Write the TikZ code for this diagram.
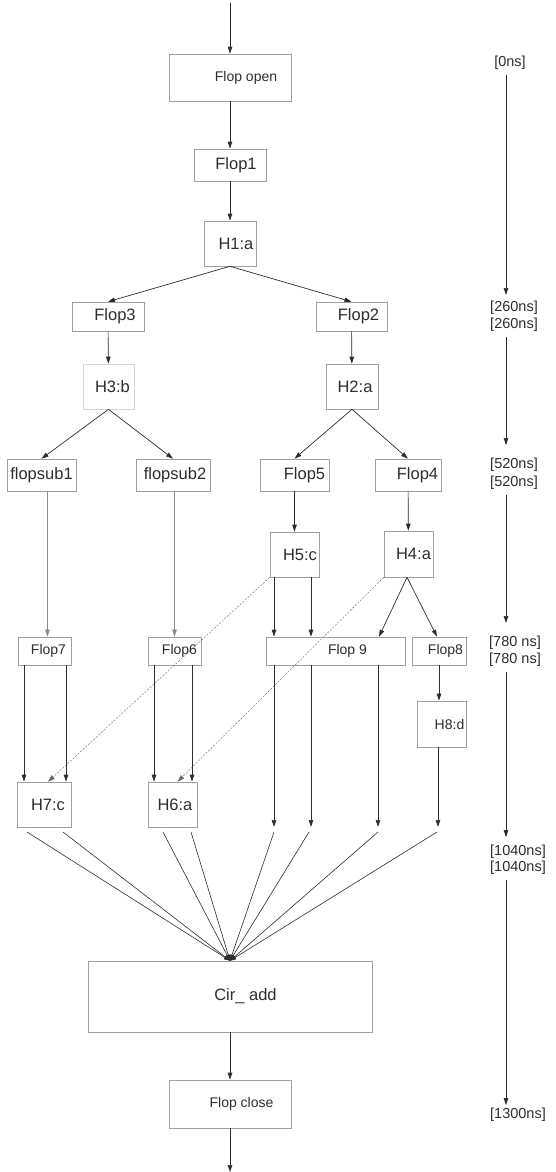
\documentclass[tikz,border=0pt]{standalone}
\usepackage{fontspec}
\setmainfont{Liberation Sans}
\usetikzlibrary{arrows.meta, positioning}
\definecolor{BoxGray}{RGB}{160, 160, 160}
\definecolor{InkGray}{RGB}{45, 45, 45}

\begin{document}
\begin{tikzpicture}[x=1pt, y=-1pt,
    box/.style={draw=BoxGray, line width=0.6pt, inner sep=0pt, text=InkGray, font=\fontsize{16.5}{18}\selectfont},
    sbox/.style={box, font=\fontsize{14}{16}\selectfont},
    arr/.style={draw=InkGray, line width=0.7pt, -{Triangle[length=7pt, width=4.5pt]}},
    faint/.style={arr, draw=black!45, line width=0.5pt},
    dep/.style={arr, draw=black!60, line width=0.4pt, dash pattern=on 2pt off 1.5pt},
    fan/.style={draw=InkGray, line width=0.6pt, -{Triangle[length=6pt, width=4pt]}},
    time/.style={inner sep=0pt, text=InkGray, font=\fontsize{14.5}{16}\selectfont}]
    \useasboundingbox (0,0) rectangle (556,1172);

    % Start and first stage
    \coordinate (in) at (230,3);
    \node[sbox, minimum width=122pt, minimum height=47pt] (open) at (230,77.5) {\hspace*{32pt}Flop open};
    \node[box, minimum width=72pt, minimum height=32pt] (f1) at (230,165) {\hspace*{12pt}Flop1};
    \node[box, minimum width=52pt, minimum height=45pt] (h1) at (230,243.5) {\hspace*{12pt}H1:a};

    % 260ns
    \node[box, minimum width=72pt, minimum height=29pt] (f3) at (108,316.5) {\hspace*{14pt}Flop3};
    \node[box, minimum width=71pt, minimum height=29pt] (f2) at (351.5,316.5) {\hspace*{14pt}Flop2};
    \node[box, draw=BoxGray!45, minimum width=51pt, minimum height=45pt] (h3) at (108.5,386.5) {\hspace*{8pt}H3:b};
    \node[box, minimum width=52pt, minimum height=45pt] (h2) at (352,386.5) {\hspace*{6pt}H2:a};

    % 520ns
    \node[box, minimum width=69pt, minimum height=32pt] (fs1) at (41.5,475) {flopsub1};
    \node[box, minimum width=74pt, minimum height=32pt] (fs2) at (173,475) {\hspace*{4pt}flopsub2};
    \node[box, minimum width=69pt, minimum height=32pt] (f5) at (294.5,475) {\hspace*{20pt}Flop5};
    \node[box, minimum width=66pt, minimum height=32pt] (f4) at (408,475) {\hspace*{19pt}Flop4};
    \node[box, minimum width=49pt, minimum height=45pt] (h5) at (294.5,554.5) {\hspace*{11pt}H5:c};
    \node[box, minimum width=49pt, minimum height=46pt] (h4) at (408.5,554) {\hspace*{10pt}H4:a};

    % 780ns
    \node[sbox, minimum width=53pt, minimum height=28pt] (f7) at (44.5,651) {\hspace*{8pt}Flop7};
    \node[sbox, minimum width=53pt, minimum height=28pt] (f6) at (174.5,651) {\hspace*{10pt}Flop6};
    \node[sbox, minimum width=139pt, minimum height=28pt] (f9) at (335.5,651) {\hspace*{24pt}Flop 9};
    \node[sbox, minimum width=54pt, minimum height=28pt] (f8) at (439,651) {\hspace*{13pt}Flop8};
    \node[sbox, minimum width=49pt, minimum height=46pt] (h8) at (441.5,724) {\hspace*{16pt}H8:d};

    % 1040ns
    \node[box, minimum width=54pt, minimum height=45pt] (h7) at (44,804.5) {\hspace*{8pt}H7:c};
    \node[box, minimum width=49pt, minimum height=45pt] (h6) at (172.5,804.5) {\hspace*{5pt}H6:a};

    % End
    \node[box, minimum width=284pt, minimum height=71pt] (cir) at (230,996.5) {\hspace*{31pt}Cir\_ add};
    \node[sbox, minimum width=122pt, minimum height=48pt] (close) at (230,1104) {\hspace*{23pt}Flop close};
    \coordinate (out) at (230,1172);

    % Main chain
    \draw[arr] (in) -- (open);
    \draw[arr] (open) -- (f1);
    \draw[arr] (f1) -- (h1);
    \draw[arr] (h1.south) -- (f3.north);
    \draw[arr] (h1.south) -- (f2.north);
    \draw[arr] (f3) -- (h3);
    \draw[arr] (f2) -- (h2);
    \draw[arr] (h3.south) -- (fs1.north);
    \draw[arr] (h3.south) -- (fs2.north);
    \draw[arr] (h2.south) -- (f5.north);
    \draw[arr] (h2.south) -- (f4.north);
    \draw[faint] ([xshift=3pt]f7.north |- fs1.south) -- ([xshift=3pt]f7.north);
    \draw[faint] (f6.north |- fs2.south) -- (f6.north);
    \draw[arr] (f5) -- (h5);
    \draw[arr] (f4) -- (h4);

    % Into Flop 9 and Flop8
    \draw[arr] ([xshift=-20.5pt]h5.south) -- ([xshift=-20.5pt]h5.south |- f9.north);
    \draw[arr] ([xshift=16.5pt]h5.south) -- ([xshift=16.5pt]h5.south |- f9.north);
    \draw[arr] ([xshift=-1.5pt]h4.south) -- ([xshift=43.5pt]f9.north);
    \draw[arr] ([xshift=-1.5pt]h4.south) -- ([xshift=-2pt]f8.north);
    \draw[arr] (f8) -- (f8.south |- h8.north);

    % Dependencies
    \draw[dep] (h5.south west) -- ([xshift=4pt]h7.north);
    \draw[dep] (h4.south west) -- ([xshift=5pt]h6.north);
    \draw[arr] ([xshift=-20.5pt]f7.south) -- ([xshift=-20.5pt]f7.south |- h7.north);
    \draw[arr] ([xshift=21.5pt]f7.south) -- ([xshift=21.5pt]f7.south |- h7.north);
    \draw[arr] ([xshift=-20.5pt]f6.south) -- ([xshift=-20.5pt]f6.south |- h6.north);
    \draw[arr] ([xshift=17.5pt]f6.south) -- ([xshift=17.5pt]f6.south |- h6.north);

    % Open ends above Cir_add
    \foreach \x [count=\i] in {274,311,378,438}
      \coordinate (e\i) at (\x,827);
    \draw[arr] (e1 |- f9.south) -- (e1);
    \draw[arr] (e2 |- f9.south) -- (e2);
    \draw[arr] (e3 |- f9.south) -- (e3);
    \draw[arr] (e4 |- h8.south) -- (e4);

    % Fan into Cir_add
    \foreach \x [count=\i] in {27,63,163,191,274,309,378,437}
      \coordinate (s\i) at (\x,832);
    \foreach \i in {1,...,8}
      \draw[fan] (s\i) -- (cir.north);
    \draw[arr] (cir) -- (close);
    \draw[arr] (close) -- (out);

    % Time axis
    \coordinate (ax) at (506,0);
    \node[time] (t0) at (510,63) {[0ns]};
    \node[time] (t1a) at (514,308) {[260ns]};
    \node[time] (t1b) at (514,325) {[260ns]};
    \node[time] (t2a) at (514,465) {[520ns]};
    \node[time] (t2b) at (514,483) {[520ns]};
    \node[time] (t3a) at (515,643) {[780 ns]};
    \node[time] (t3b) at (515,660) {[780 ns]};
    \node[time] (t4a) at (518,852) {[1040ns]};
    \node[time] (t4b) at (518,868) {[1040ns]};
    \node[time] (t5) at (518,1115) {[1300ns]};
    \draw[arr, shorten <=5pt, shorten >=6pt] (t0.south -| ax) -- (t1a.north -| ax);
    \draw[arr, shorten <=5pt, shorten >=13pt] (t1b.south -| ax) -- (t2a.north -| ax);
    \draw[arr, shorten <=5pt, shorten >=13pt] (t2b.south -| ax) -- (t3a.north -| ax);
    \draw[arr, shorten <=5pt, shorten >=8pt] (t3b.south -| ax) -- (t4a.north -| ax);
    \draw[arr, shorten <=5pt, shorten >=3pt] (t4b.south -| ax) -- (t5.north -| ax);
\end{tikzpicture}
\end{document}
